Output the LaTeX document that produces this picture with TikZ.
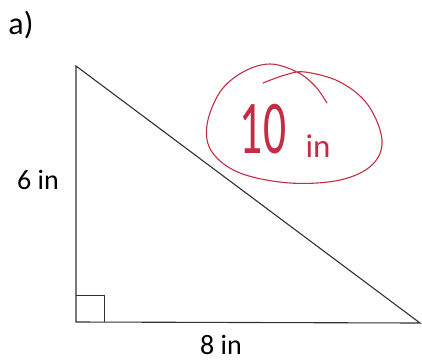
\documentclass[tikz,border=0pt]{standalone}
\usepackage{fontspec}
\setmainfont{Carlito}
\definecolor{penred}{RGB}{196,44,68}
\definecolor{inkgray}{RGB}{45,50,48}
\begin{document}
\begin{tikzpicture}[x=1pt,y=-1pt]
\useasboundingbox (0,0) rectangle (422,362);
\coordinate (A) at (76,66);
\coordinate (B) at (76,322);
\coordinate (C) at (420,323);
\draw[inkgray,line width=1.1pt,line join=miter] (A) -- (B) -- (C) -- cycle;
\draw[inkgray,line width=0.8pt] (76,295) -- (104,295) -- (104,322);
\node (lab) at (21,25) {\fontsize{32}{36}\selectfont a)};
\node (side) at (38,180) {\fontsize{28}{32}\selectfont 6 in};
\node (base) at (221,345) {\fontsize{28}{32}\selectfont 8 in};
% the pen loop round the answer
\draw[penred,line width=1.1pt,line cap=round] plot[smooth,tension=0.6] coordinates
  {(263,83) (285,75) (305,72) (340,82) (368,105) (382,140) (372,165)
   (340,180) (290,183) (240,173) (212,152) (207,125) (220,92) (243,72)
   (270,64) (297,72) (315,86) (327,103)};
\node[penred,xscale=0.6] (ans) at (263,129) {\fontsize{76}{80}\selectfont 10};
\node[penred] (unit) at (318,146) {\fontsize{33}{36}\selectfont in};
\end{tikzpicture}
\end{document}
